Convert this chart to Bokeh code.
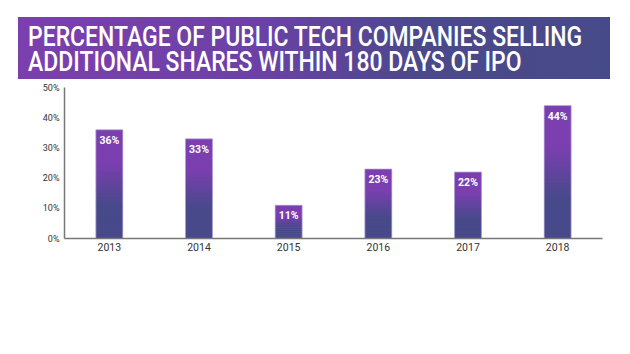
from bokeh.plotting import figure
from bokeh.models import Div, ColumnDataSource, PrintfTickFormatter, FixedTicker
from bokeh.layouts import column
from bokeh.core.properties import value
from bokeh.embed import file_html
from bokeh.resources import INLINE

years = ["2013", "2014", "2015", "2016", "2017", "2018"]
pct = [36, 33, 11, 23, 22, 44]
labels = ["36%", "33%", "11%", "23%", "22%", "44%"]
y_ticks = [0, 10, 20, 30, 40, 50]

title_lines = ["PERCENTAGE OF PUBLIC TECH COMPANIES SELLING",
               "ADDITIONAL SHARES WITHIN 180 DAYS OF IPO"]

FONT = "Roboto"

inner = "".join(
    '<div style="transform:scaleX(0.835);transform-origin:left top;white-space:nowrap;height:25px;">%s</div>' % t
    for t in title_lines)

title = Div(
    text=inner,
    width=592, height=62, margin=(17, 0, 0, 18),
    styles={
        "background": "linear-gradient(90deg, #7b3fae 0%, #6c41a7 40%, #4b488c 68%, #474a88 100%)",
        "color": "white",
        "font-family": "Roboto",
        "font-weight": "500",
        "font-size": "27.5px",
        "line-height": "25px",
        "padding": "7px 0 0 10px",
        "box-sizing": "border-box",
        "width": "592px",
        "height": "62px",
        "overflow": "hidden",
    },
)

p = figure(x_range=years, y_range=(0, 50), width=630, height=275,
           output_backend="svg", toolbar_location=None,
           min_border_left=64, min_border_right=28, min_border_top=8, min_border_bottom=116)
p.outline_line_color = None
p.grid.grid_line_color = None
p.background_fill_color = "white"

top_c = (123, 63, 176)
bot_c = (71, 73, 138)
def mix(t):
    t = max(0.0, min(1.0, t))
    return "#%02x%02x%02x" % tuple(int(round(a + (b - a) * t)) for a, b in zip(top_c, bot_c))

width = 0.30
nrow = 50
xs, ys_b, ys_t, cols = [], [], [], []
for yr, v in zip(years, pct):
    for r in reversed(range(nrow)):
        rowc = (r + 0.5) / nrow
        t = (0.68 - rowc) / 0.4
        xs.append(yr)
        ys_b.append(v * r / nrow)
        ys_t.append(min(v, v * (r + 1.8) / nrow))
        cols.append(mix(t))

src = ColumnDataSource(dict(x=xs, bottom=ys_b, top=ys_t, color=cols))
p.vbar(x="x", width=width, bottom="bottom", top="top", source=src,
       fill_color="color", line_color=None)

bars = ColumnDataSource(dict(x=years, top=pct))
p.vbar(x="x", width=width, bottom=0, top="top", source=bars,
       fill_color=None, line_color="#b7a6d8", line_width=1, line_alpha=0.7)

lab = ColumnDataSource(dict(x=years, y=pct, t=labels))
p.text(x="x", y="y", text="t", source=lab, text_color="white",
       text_font=value(FONT), text_font_size="10.5px", text_font_style="bold",
       text_align="center", text_baseline="top", y_offset=4)

p.yaxis.ticker = FixedTicker(ticks=y_ticks)
p.yaxis.formatter = PrintfTickFormatter(format="%d%%")
for ax in (p.xaxis, p.yaxis):
    ax.axis_line_color = "#777777"
    ax.axis_line_width = 1.5
    ax.major_tick_line_color = None
    ax.minor_tick_line_color = None
    ax.major_tick_out = 0
    ax.major_tick_in = 0
    ax.minor_tick_out = 0
    ax.major_label_text_color = "#333333"
    ax.major_label_text_font = FONT
p.yaxis.major_label_text_font_size = "9px"
p.yaxis.major_label_standoff = 5
p.xaxis.major_label_text_font_size = "10.5px"
p.xaxis.major_label_standoff = 4
p.x_range.range_padding = 0

layout = column(title, p)
open("out.html", "w").write(file_html(layout, INLINE))
